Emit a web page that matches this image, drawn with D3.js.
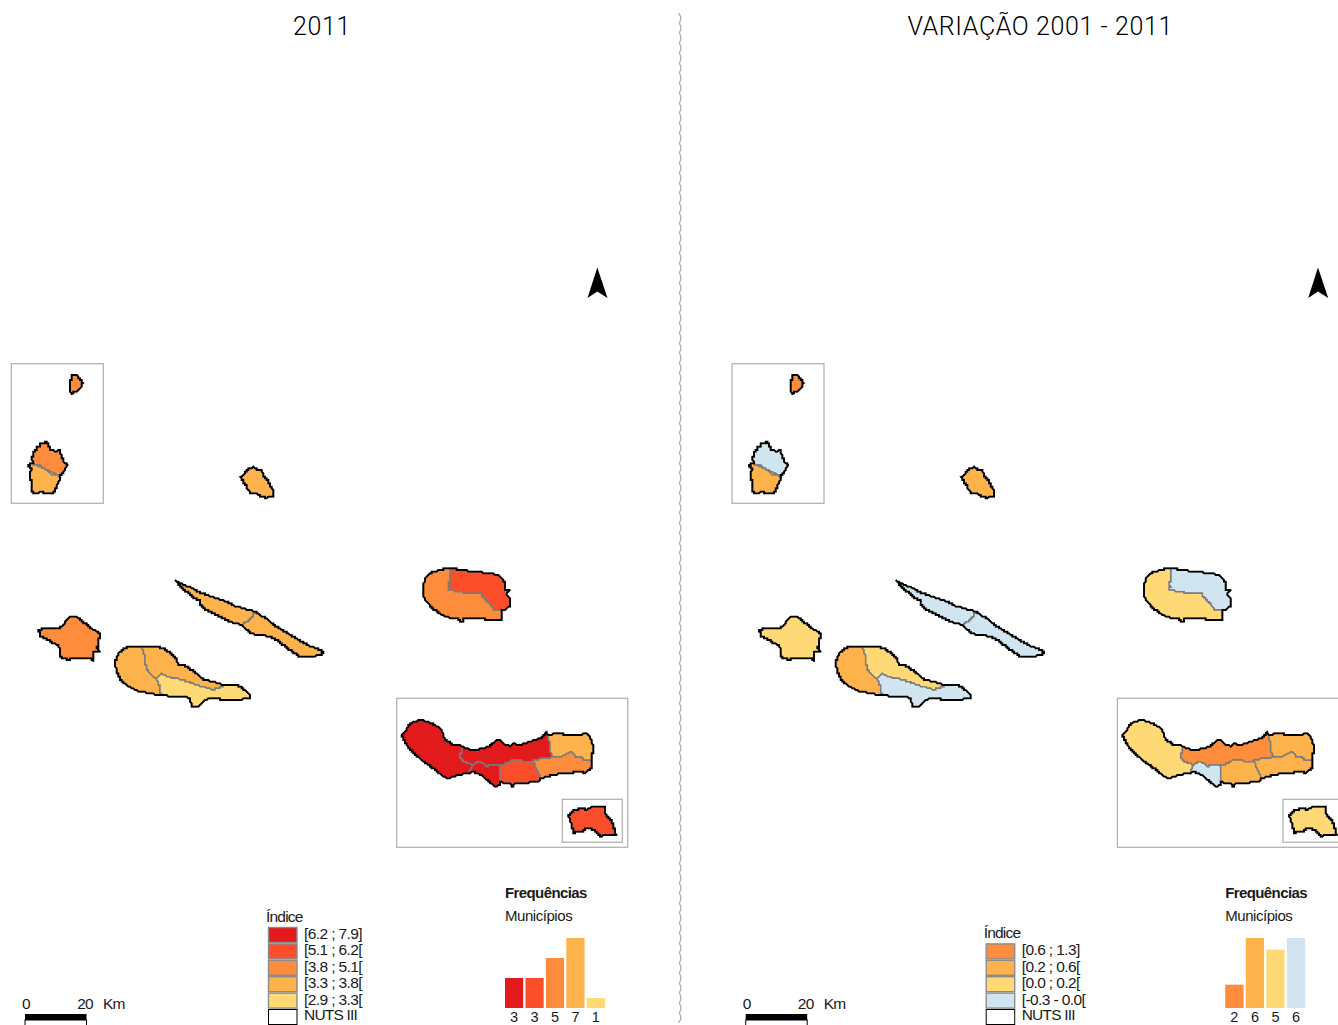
<!DOCTYPE html>
<html>
<head>
<meta charset="utf-8">
<script src="https://cdnjs.cloudflare.com/ajax/libs/d3/7.8.5/d3.min.js"></script>
<style>
  html, body { margin: 0; padding: 0; background: #fff; }
  svg { display: block; }
  text { font-family: "Liberation Sans", Arial, sans-serif; fill: #1a1a1a; }
</style>
</head>
<body>
<div id="map"></div>
<script>
// class colours (YlOrRd + the pale blue used for negative change)
var RED = "#e31a1c", REDORANGE = "#fc4e2a", ORANGE = "#fd8d3c", LIGHTORANGE = "#feb24c", YELLOW = "#fed976", BLUE = "#d1e5f0";

// 2011 panel
var legend2011 = ["[6.2 ; 7.9]", "[5.1 ; 6.2[", "[3.8 ; 5.1[", "[3.3 ; 3.8[", "[2.9 ; 3.3["];
var colors2011 = [RED, REDORANGE, ORANGE, LIGHTORANGE, YELLOW];
var freq2011 = [3, 3, 5, 7, 1];

// variation panel
var legendVar = ["[0.6 ; 1.3]", "[0.2 ; 0.6[", "[0.0 ; 0.2[", "[-0.3 - 0.0["];
var colorsVar = [ORANGE, LIGHTORANGE, YELLOW, BLUE];
var freqVar = [2, 6, 5, 6];

// class index of each municipality (index into the colours above)
var classes2011 = {corvo:2, floresN:2, floresS:3, graciosa:3, faial:2, picoW:3, picoN:3, picoS:4, jorgeW:3, jorgeE:3,
  terceiraE:1, terceiraW:2, smA:0, smB:0, smC:0, smD:1, smE:2, smF:3, maria:1};
var classesVar = {corvo:0, floresN:3, floresS:1, graciosa:1, faial:2, picoW:1, picoN:2, picoS:3, jorgeW:3, jorgeE:3,
  terceiraE:3, terceiraW:2, smA:2, smB:0, smC:3, smD:1, smE:1, smF:1, maria:2};

// outlines, western group (map units = 1/3 px, sheet origin 0,350)
var corvo = [[214,76],[224,74],[232,77],[236,86],[243,90],[248,98],[245,110],[238,116],[232,124],[220,127],[213,133],[211,120],[208,105],[210,94],[213,88]];
var floresCoastN = [[98,340],[97,322],[99,308],[107,302],[110,292],[120,288],[122,281],[134,279],[137,274],[142,276],[143,288],[150,290],[152,298],[160,302],[168,305],[178,300],[181,308],[184,320],[188,325],[188,335],[195,340],[203,345],[199,352],[194,362],[188,368],[180,378]];
var floresCoastS = [[180,378],[177,395],[170,405],[165,420],[160,428],[145,428],[135,430],[125,426],[110,428],[100,428],[95,420],[93,410],[95,395],[91,385],[90,370],[94,355],[85,348],[92,342],[98,340]];
var floresBorder = [[180,378],[165,376],[150,372],[140,362],[130,355],[118,343],[110,345],[104,345],[98,340]];
var graciosa = [[726,378],[734,372],[740,360],[750,354],[760,352],[772,358],[785,362],[790,375],[795,385],[803,392],[810,405],[818,418],[820,428],[818,440],[800,443],[788,441],[778,437],[770,428],[760,431],[750,428],[742,415],[738,405],[730,395],[722,382]];
var faial = [[115,840],[130,835],[160,834],[185,832],[195,818],[205,803],[220,800],[235,803],[245,815],[255,820],[268,832],[280,838],[300,850],[302,858],[295,870],[296,885],[291,890],[298,905],[282,905],[282,933],[275,925],[250,926],[230,925],[205,928],[185,926],[180,915],[178,895],[175,885],[160,880],[148,872],[135,865],[122,858]];
var picoCoastN = [[425,890],[440,888],[460,888],[478,892],[490,895],[505,905],[520,915],[530,930],[535,945],[550,946],[560,950],[575,960],[590,970],[602,982],[615,990],[635,994],[650,998],[662,1002],[675,1005]];
var picoCoastS = [[675,1005],[700,1006],[720,1008],[735,1020],[750,1035],[748,1045],[735,1046],[720,1048],[705,1052],[690,1052],[665,1048],[640,1045],[625,1046],[615,1052],[600,1065],[595,1068],[575,1070],[572,1055],[570,1045],[555,1040],[540,1040],[510,1038],[483,1036]];
var picoCoastW = [[483,1036],[460,1032],[440,1028],[425,1024],[410,1022],[395,1014],[385,1008],[372,998],[360,985],[350,965],[346,945],[348,925],[354,912],[360,905],[372,896],[385,890],[400,888],[425,890]];
var picoBorderA = [[425,890],[433,915],[434,935],[445,965],[468,985]];
var picoBorderB = [[468,985],[480,1010],[483,1036]];
var picoBorderC = [[468,985],[485,972],[510,982],[550,990],[600,1008],[640,1020],[675,1005]];
var jorgeCoastN = [[525,692],[545,702],[570,712],[595,725],[620,735],[650,745],[680,755],[705,768],[730,775],[765,785]];
var jorgeCoastE = [[765,785],[785,798],[800,805],[815,820],[830,830],[855,845],[880,860],[905,875],[930,888],[950,895],[970,905],[962,915],[930,920],[900,920],[885,910],[870,900],[850,885],[830,870],[810,860],[790,855],[770,855],[755,850],[740,838],[725,825]];
var jorgeCoastS = [[725,825],[700,818],[680,810],[660,800],[640,790],[620,780],[605,770],[598,752],[585,745],[560,725],[540,708],[525,692]];
var jorgeBorder = [[765,785],[755,805],[725,825]];

// outlines, eastern group (sheet origin 390,550)
var terceiraCoastE = [[180,55],[195,55],[205,60],[225,60],[240,65],[265,64],[280,68],[305,70],[330,78],[338,88],[345,100],[347,118],[360,122],[352,128],[350,136],[360,148],[362,158],[358,168],[345,178],[335,182]];
var terceiraCoastW = [[335,182],[337,195],[335,212],[322,210],[310,212],[290,208],[265,205],[240,206],[220,207],[219,215],[209,215],[205,205],[185,203],[170,202],[150,192],[135,180],[120,168],[105,150],[100,132],[98,115],[103,95],[105,85],[118,72],[130,65],[150,60],[165,56],[180,55]];
var terceiraBorder = [[335,182],[322,178],[312,178],[302,165],[290,150],[275,138],[272,128],[262,128],[258,132],[240,132],[215,126],[190,122],[175,122],[178,108],[175,100],[182,85],[180,55]];
var smCoast1 = [[238,668],[225,670],[205,675],[185,680],[178,686],[160,680],[150,670],[130,655],[118,645],[100,635],[85,620],[60,600],[45,575],[35,555],[48,540],[60,520],[72,516],[90,508],[108,515],[125,520],[145,532],[155,542],[160,555],[165,570],[178,575],[190,585],[205,583],[218,590]];
var smCoast2 = [[218,590],[240,598],[255,600],[275,596],[295,590],[308,580],[320,570],[332,570],[345,585],[360,588],[372,580],[385,585],[400,582],[420,575],[440,568],[460,560],[468,545],[473,555]];
var smCoast3 = [[473,555],[490,552],[510,548],[525,555],[545,555],[565,553],[590,552],[600,560],[605,575],[612,600],[606,612],[607,630]];
var smCoast4 = [[607,630],[605,650],[595,660],[585,668],[565,665],[545,668],[525,670],[505,672],[485,675],[470,680],[452,685]];
var smCoast5 = [[452,685],[445,695],[420,697],[400,700],[385,700],[370,703],[368,712],[362,702],[345,700],[332,695]];
var smCoast6 = [[332,695],[328,705],[315,710],[305,700],[290,690],[275,675],[265,672],[250,666],[238,668]];
var smBorder1 = [[238,668],[248,645]];
var smBorder2 = [[248,645],[225,635],[208,622],[215,605],[218,590]];
var smBorder3 = [[248,645],[262,636],[270,636],[290,648],[310,645],[328,648]];
var smBorder4 = [[328,648],[330,670],[332,695]];
var smBorder5 = [[328,648],[350,640],[368,630],[395,632],[415,635],[430,632]];
var smBorder6 = [[430,632],[440,658],[452,685]];
var smBorder7 = [[430,632],[455,625],[490,622]];
var smBorder8 = [[490,622],[478,600],[480,580],[473,555]];
var smBorder9 = [[490,622],[515,618],[545,603],[555,618],[575,622],[582,632],[607,630]];
var maria = [[535,795],[550,780],[562,781],[570,775],[590,778],[605,772],[625,770],[642,768],[648,795],[665,815],[675,840],[678,855],[660,855],[630,858],[620,848],[610,838],[590,835],[575,845],[550,848],[545,825]];

function rev(a) { return a.slice().reverse(); }

// the source map is a low-res raster, so coasts get stepped onto a coarse grid
var GRID = 5;
function stepped(ring) {
  var out = [];
  d3.pairs(ring).forEach(function(p) {
    var n = Math.max(1, Math.ceil(Math.hypot(p[1][0] - p[0][0], p[1][1] - p[0][1]) / 4));
    d3.range(n).forEach(function(i) {
      out.push([
        Math.round((p[0][0] + (p[1][0] - p[0][0]) * i / n) / GRID) * GRID,
        Math.round((p[0][1] + (p[1][1] - p[0][1]) * i / n) / GRID) * GRID
      ]);
    });
  });
  out.push(out[0]);
  return out;
}
function poly(ring) { return {type: "Polygon", coordinates: [stepped(ring.concat([ring[0]]))]}; }

var municipiosWest = {
  corvo: corvo,
  floresN: floresCoastN.concat(rev(floresBorder)),
  floresS: floresCoastS.concat(floresBorder),
  graciosa: graciosa,
  faial: faial,
  picoW: picoCoastW.concat(picoBorderA, picoBorderB),
  picoN: picoCoastN.concat(rev(picoBorderC), rev(picoBorderA)),
  picoS: picoBorderC.concat(picoCoastS, rev(picoBorderB)),
  jorgeW: jorgeCoastN.concat(jorgeBorder, jorgeCoastS),
  jorgeE: jorgeCoastE.concat(rev(jorgeBorder))
};
var municipiosEast = {
  terceiraE: terceiraCoastE.concat(terceiraBorder),
  terceiraW: terceiraCoastW.concat(rev(terceiraBorder)),
  smA: smCoast1.concat(rev(smBorder2), rev(smBorder1)),
  smB: smCoast2.concat(rev(smBorder8), rev(smBorder7), rev(smBorder5), rev(smBorder3), smBorder2),
  smC: smBorder1.concat(smBorder3, smBorder4, smCoast6),
  smD: smBorder5.concat(smBorder6, smCoast5, rev(smBorder4)),
  smE: smBorder7.concat(smBorder9, smCoast4, rev(smBorder6)),
  smF: smCoast3.concat(rev(smBorder9), smBorder8),
  maria: maria
};
var coastsWest = [corvo, floresCoastN.concat(floresCoastS), graciosa, faial, picoCoastN.concat(picoCoastS, picoCoastW), jorgeCoastN.concat(jorgeCoastE, jorgeCoastS)];
var coastsEast = [terceiraCoastE.concat(terceiraCoastW), smCoast1.concat(smCoast2, smCoast3, smCoast4, smCoast5, smCoast6), maria];

var width = 1338, height = 1025, panelShift = 720.7;

var svg = d3.select("#map").append("svg")
    .attr("width", width)
    .attr("height", height);

var pathWest = d3.geoPath(d3.geoIdentity().scale(1/3).translate([0, 350]));
var pathEast = d3.geoPath(d3.geoIdentity().scale(1/3).translate([390, 550]));

// wavy divider
var divY = d3.range(13, 1026, 5);
svg.append("path")
    .attr("d", d3.line().x(function(d, i) { return 680.3 + (i % 2 ? 2 : -2); }).y(function(d) { return d; }).curve(d3.curveBasis)(divY))
    .attr("fill", "none")
    .attr("stroke", "#a0a0a0")
    .attr("stroke-width", 1.1);

function drawPanel(opt) {
  var g = svg.append("g").attr("transform", "translate(" + opt.shift + ",0)");

  // inset frames
  var frames = [[11.3, 363.7, 92, 139.6], [396.7, 698.3, 231, 149], [562.3, 799.3, 60, 43]];
  g.selectAll("rect.frame").data(frames).enter().append("rect")
      .attr("class", "frame")
      .attr("x", function(d) { return d[0]; })
      .attr("y", function(d) { return d[1]; })
      .attr("width", function(d) { return d[2]; })
      .attr("height", function(d) { return d[3]; })
      .attr("fill", "none")
      .attr("stroke", "#b3b3b3")
      .attr("stroke-width", 1.3);

  // municipalities
  function drawGroup(items, coasts, path) {
    g.append("g").selectAll("path").data(Object.keys(items)).enter().append("path")
        .attr("d", function(k) { return path(poly(items[k])); })
        .attr("fill", function(k) { return opt.colors[opt.classes[k]]; })
        .attr("stroke", "#7b7b7b")
        .attr("stroke-width", 1.5);
    g.append("g").selectAll("path").data(coasts).enter().append("path")
        .attr("d", function(r) { return path(poly(r)); })
        .attr("fill", "none")
        .attr("stroke", "#000")
        .attr("stroke-width", 1.9)
        .attr("stroke-linejoin", "miter")
        .attr("stroke-miterlimit", 2);
  }
  drawGroup(municipiosWest, coastsWest, pathWest);
  drawGroup(municipiosEast, coastsEast, pathEast);

  // north arrow
  g.append("path")
      .attr("d", d3.line()([[597.3, 267.5], [607.5, 298], [597.3, 291.5], [587.5, 298]]) + "Z")
      .attr("fill", "#000");

  // title
  g.append("text")
      .attr("x", opt.titleX)
      .attr("y", 35)
      .attr("text-anchor", "middle")
      .style("font-family", "Roboto")
      .style("font-weight", 300)
      .style("font-size", "25px")
      .style("letter-spacing", "0.6px")
      .style("fill", "#000")
      .text(opt.title);

  // legend
  var rowH = 16.4;
  var lg = g.append("g");
  lg.append("text")
      .attr("x", opt.legendX - 2.5)
      .attr("y", opt.legendY - 5.5)
      .style("font-size", "15.5px")
      .style("letter-spacing", "-0.8px")
      .text("Índice");
  var rows = lg.selectAll("g.row").data(opt.legend).enter().append("g")
      .attr("class", "row")
      .attr("transform", function(d, i) { return "translate(" + opt.legendX + "," + (opt.legendY + i * rowH) + ")"; });
  rows.append("rect")
      .attr("width", 28.5)
      .attr("height", 15)
      .attr("fill", function(d, i) { return opt.colors[i]; })
      .attr("stroke", "#8c8c8c")
      .attr("stroke-width", 1.4);
  rows.append("text")
      .attr("x", 35.5)
      .attr("y", 11.5)
      .style("font-size", "15.5px")
      .style("letter-spacing", "-0.6px")
      .text(function(d) { return d; });
  var nuts = lg.append("g")
      .attr("transform", "translate(" + opt.legendX + "," + (opt.legendY + opt.legend.length * rowH) + ")");
  nuts.append("rect").attr("width", 28.5).attr("height", 15).attr("fill", "#fff").attr("stroke", "#000").attr("stroke-width", 1);
  nuts.append("text").attr("x", 35.5).attr("y", 10.5).style("font-size", "15.5px").style("letter-spacing", "-0.8px").text("NUTS III");

  // frequencies
  var fx = opt.freqX;
  g.append("text").attr("x", fx).attr("y", 898).style("font-size", "15px").style("font-weight", "bold").style("letter-spacing", "-0.6px").text("Frequências");
  g.append("text").attr("x", fx).attr("y", 921).style("font-size", "15px").style("letter-spacing", "-0.45px").text("Municípios");

  var x = d3.scaleBand().domain(d3.range(opt.freq.length)).range([fx, fx + opt.barsW]).paddingInner(0.11).paddingOuter(0);
  var y = d3.scaleLinear().domain([0, d3.max(opt.freq)]).range([1008, 938]);
  g.selectAll("rect.bar").data(opt.freq).enter().append("rect")
      .attr("class", "bar")
      .attr("x", function(d, i) { return x(i); })
      .attr("y", function(d) { return y(d); })
      .attr("width", x.bandwidth())
      .attr("height", function(d) { return y(0) - y(d); })
      .attr("fill", function(d, i) { return opt.colors[i]; });
  var axis = g.append("g")
      .attr("transform", "translate(0,1008)")
      .call(d3.axisBottom(x).tickSize(0).tickPadding(4).tickFormat(function(i) { return opt.freq[i]; }));
  axis.select(".domain").remove();
  axis.selectAll("text").style("font-size", "14.5px").style("font-family", "Liberation Sans").attr("fill", "#1a1a1a");

  // scale bar
  var sx = d3.scaleLinear().domain([0, 20]).range([25, 86.5]);
  g.append("rect").attr("x", sx(0)).attr("y", 1014).attr("width", sx(20) - sx(0)).attr("height", 6).attr("fill", "#000");
  g.append("rect").attr("x", sx(0)).attr("y", 1020).attr("width", sx(20) - sx(0)).attr("height", 6).attr("fill", "#fff").attr("stroke", "#000");
  g.append("text").attr("x", sx(0) + 1).attr("y", 1009).attr("text-anchor", "middle")
      .style("font-size", "15.5px").style("letter-spacing", "-0.8px").text(0);
  g.append("text").attr("x", sx(20) - 1.5).attr("y", 1009).attr("text-anchor", "middle")
      .style("font-size", "15.5px").style("letter-spacing", "-0.8px").text(20);
  g.append("text").attr("x", 103).attr("y", 1009).style("font-size", "15.5px").style("letter-spacing", "-0.8px").text("Km");
}

drawPanel({shift: 0, title: "2011", titleX: 322, legend: legend2011, colors: colors2011, classes: classes2011, freq: freq2011,
  legendX: 268.5, legendY: 927.5, freqX: 505, barsW: 100});
drawPanel({shift: panelShift, title: "VARIAÇÃO 2001 - 2011", titleX: 319.5, legend: legendVar, colors: colorsVar, classes: classesVar, freq: freqVar,
  legendX: 265.5, legendY: 943.9, freqX: 504.5, barsW: 80});
</script>
</body>
</html>
